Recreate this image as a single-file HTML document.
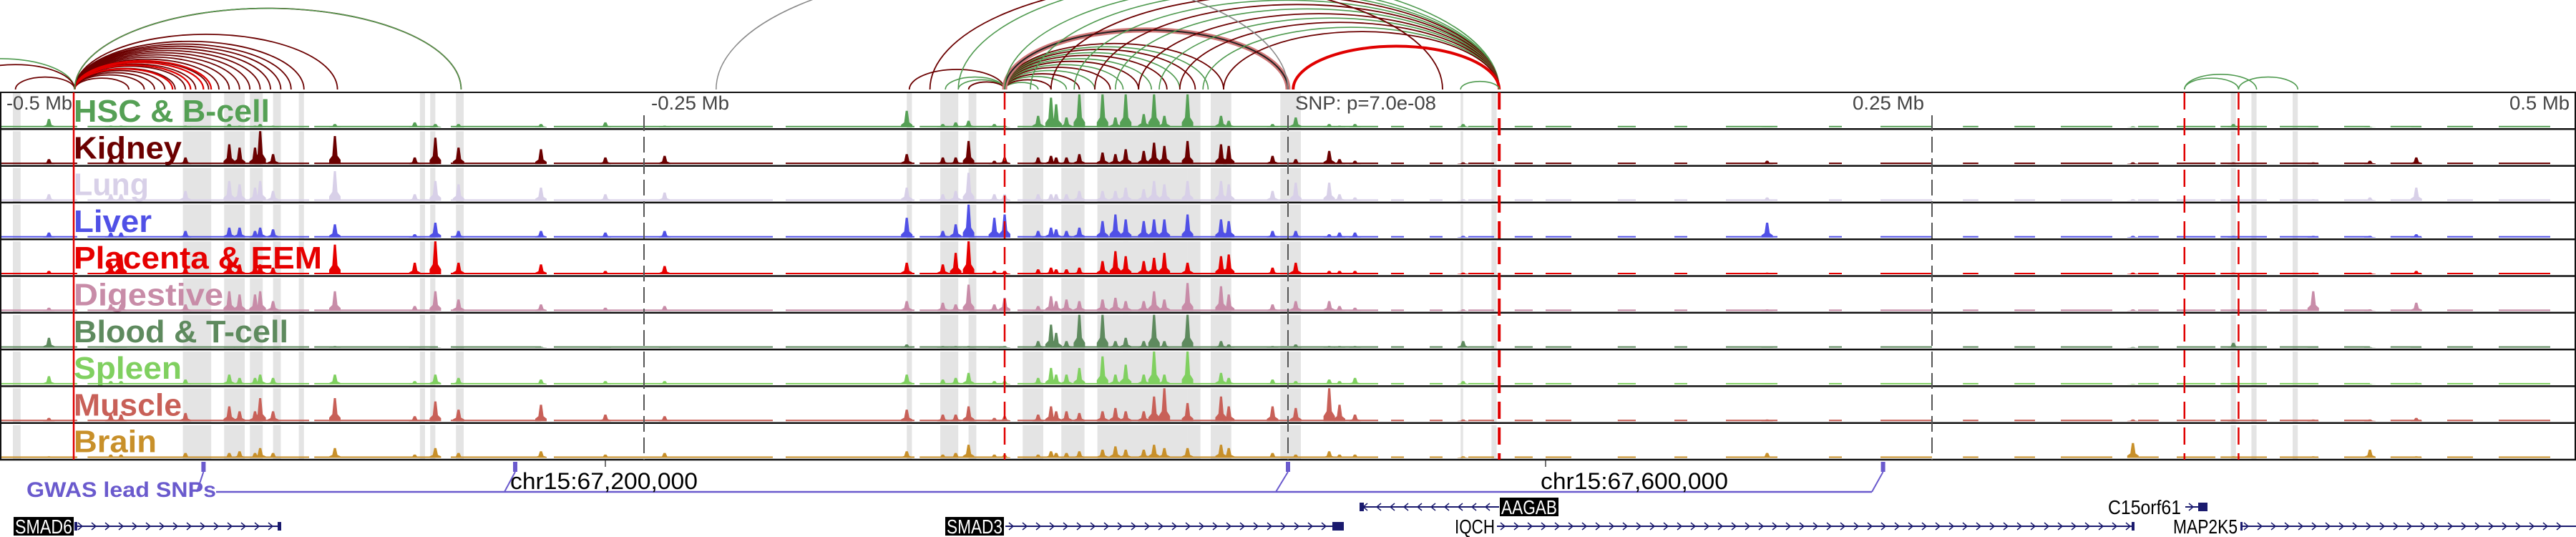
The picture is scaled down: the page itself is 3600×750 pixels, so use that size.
<!DOCTYPE html>
<html><head><meta charset="utf-8">
<style>
html,body{margin:0;padding:0;background:#fff;}
svg{display:block;}
text{font-family:"Liberation Sans","DejaVu Sans",sans-serif;}
</style></head>
<body>
<svg id="chart" width="3600" height="750" viewBox="0 0 3600 750" xmlns="http://www.w3.org/2000/svg">
  <g id="arcs"></g>
  <g id="bands"></g>
  <g id="tracks"></g>
  <g id="guides"></g>
  <g id="labels"></g>
  <g id="bottom"></g>
</svg>
<script>
// ---- data (genomic offset in kb relative to lead SNP) ----
const trackNames = ["HSC & B-cell","Kidney","Lung","Liver","Placenta & EEM","Digestive","Blood & T-cell","Spleen","Muscle","Brain"];
const trackColors = ["#55a055","#6b0000","#d8d0e8","#5050e6","#e60000","#c88ca8","#5e8a5e","#80d060","#c86058","#c8902a"];
const peakPos = [-481,-457,-453,-428,-411,-407,-401,-399,-394,-370,-339,-331,-322,-290,-265,-242,-148,-134,-129,-124,-114,-110,-97,-92,-90,-86,-81,-72,-67,-63,-56,-52,-48,-39,-26,-23,-6,3,16,20,26,68,186,328,367,398,420,438];
const hscVals = [.25,.05,.05,.05,.1,.05,.05,.1,.05,.1,.15,.1,.1,.1,.15,.05,.5,.1,.15,.2,.1,.05,.35,.9,.7,.3,1,1,.3,1,.4,1,.35,1,.35,.2,.1,.3,.1,.05,.1,.1,.02,.03,.1,.02,.02,.03];
const kidneyVals = [.15,.2,.2,.2,.6,.5,.5,1,.3,.85,.2,.8,.5,.45,.2,.25,.3,.2,.2,.7,.1,.2,.2,.25,.2,.2,.3,.35,.3,.45,.4,.65,.55,.7,.6,.55,.25,.15,.4,.15,.1,.05,.1,.05,.05,.05,.1,.2];
const lungVals = [.2,.2,.2,.3,.6,.5,.4,.6,.3,.9,.2,.6,.5,.4,.2,.25,.4,.2,.3,.85,.2,.2,.2,.2,.2,.2,.3,.3,.3,.4,.35,.6,.5,.6,.6,.5,.3,.55,.55,.2,.1,.05,.1,.05,.05,.05,.1,.4];
const liverVals = [.15,.15,.15,.2,.3,.3,.2,.3,.25,.4,.1,.45,.2,.2,.15,.2,.6,.2,.4,1,.6,.7,.2,.3,.25,.2,.3,.5,.7,.55,.5,.55,.55,.7,.55,.5,.2,.2,.1,.15,.15,.05,.45,.05,.05,.05,.05,.1];
const placentaVals = [.1,.35,.6,.2,.4,.3,.3,.3,.2,.9,.35,1,.35,.3,.1,.25,.35,.3,.65,1,.1,.1,.15,.2,.15,.15,.2,.4,.7,.55,.4,.5,.65,.35,.55,.6,.2,.35,.1,.1,.1,.05,.05,.05,.05,.05,.05,.1];
const digestiveVals = [.1,.2,.2,.2,.6,.5,.5,.6,.3,.6,.15,.6,.35,.2,.1,.15,.3,.25,.2,.8,.2,.4,.15,.45,.3,.35,.3,.35,.4,.3,.3,.6,.35,.85,.75,.5,.2,.3,.3,.15,.1,.05,.05,.05,.05,.6,.05,.25];
const bloodVals = [.3,.03,.03,.03,.03,.03,.03,.03,.03,.05,.03,.03,.03,.03,.03,.03,.1,.05,.05,.05,.03,.05,.2,.7,.45,.2,1,1,.2,.3,.2,1,.2,1,.2,.1,.05,.1,.05,.05,.05,.2,.02,.02,.15,.02,.02,.02];
const spleenVals = [.25,.1,.1,.15,.3,.2,.2,.3,.2,.3,.1,.3,.2,.15,.1,.1,.3,.15,.2,.35,.1,.1,.2,.5,.3,.3,.5,.85,.3,.6,.3,1,.3,1,.35,.2,.15,.1,.15,.1,.2,.1,.02,.02,.05,.02,.02,.05];
const muscleVals = [.1,.2,.2,.25,.45,.3,.3,.7,.3,.7,.15,.6,.35,.5,.2,.15,.35,.2,.2,.45,.1,.15,.2,.45,.3,.3,.25,.3,.4,.3,.3,.75,1,.55,.75,.45,.45,.4,1,.5,.2,.05,.05,.05,.05,.05,.05,.1];
const brainVals = [.05,.1,.1,.15,.15,.2,.15,.3,.15,.3,.1,.3,.15,.2,.1,.15,.2,.1,.15,.4,.1,.1,.1,.2,.15,.15,.2,.25,.35,.25,.25,.4,.3,.3,.4,.3,.15,.1,.2,.1,.1,.05,.15,.45,.05,.05,.25,.05];
const seriesVals = [hscVals,kidneyVals,lungVals,liverVals,placentaVals,digestiveVals,bloodVals,spleenVals,muscleVals,brainVals];
const coverageStart = [-500,-466,-378,-325,-285,-195,-143,-105,40,55,70,88,100,128,150,170,210,230,262,282,300,330,345,362,385,410,428,450,470];
const coverageEnd   = [-470,-380,-330,-290,-200,-145,-110,35,45,60,80,95,110,135,155,190,215,250,268,290,320,338,360,380,400,420,440,460,490];
const bandStart = [-495,-429,-413,-403,-394,-384,-337,-333,-323,-148,-135,-124,-103,-88,-74,-64,-52,-39,-30,-3,67,79,366,374,390];
const bandEnd   = [-492,-418,-405,-398,-391,-382,-335,-331,-320,-146,-128,-121,-95,-79,-62,-39,-42,-34,-22,5,68,81,368,376,392];
const loopFrom = [-528,-517,-494,-471,-471,-471,-471,-471,-471,-471,-471,-471,-471,-471,-471,-471,-471,-471,-471,-471,-471,-471,-471,-471,-471,-471,-471,-147,-133,-128,-124,-128,-110,-110,-110,-110,-110,-110,-110,-110,-110,-110,-110,-110,-110,-110,-110,-110,-110,-100,-92,-83,-75,-67,-58,-50,-42,-33,-25,-222,-139,2,67,348,348,369];
const loopTo   = [-471,-471,-471,-450,-444,-440,-436,-432,-428,-424,-419,-415,-411,-407,-403,-399,-395,-391,-387,-382,-433,-426,-421,-418,-369,-321,-321,-110,-110,-110,-110,82,-97,-92,-86,-81,-75,-69,-64,-58,-53,-47,-42,-36,-31,-25,0,0,82,82,82,82,82,82,82,82,82,82,82,0,60,82,82,376,369,392];
const loopType = ["g","d","d","d","d","d","d","d","d","d","d","d","d","d","d","d","d","d","d","d","r","r","r","r","d","d","g","d","g","g","d","g","g","d","g","d","g","d","g","d","g","d","g","d","g","d","s","k","g","g","d","g","d","g","d","g","d","g","d","e","d","R","g","g","g","g"];
const axisLabels = ["-0.5 Mb","-0.25 Mb","SNP: p=7.0e-08","0.25 Mb","0.5 Mb"];
const axisLabelKb = [-500,-250,0,250,500];
const snpKb = [-421,-300,0,231];
const coordTickKb = [-265,100];
const coordTickLabels = ["chr15:67,200,000","chr15:67,600,000"];

// ---- scales ----
const X0 = 1800, PXKB = 3.6;
const xs = kb => X0 + kb*PXKB;
const TOP = 129, TH = 51.3, NT = 10, MAXH = 46;
const trackBottom = i => TOP + (i+1)*TH - 2.5;
const NS = "http://www.w3.org/2000/svg";
function mk(tag, attrs, parent){ const e=document.createElementNS(NS,tag); for(const k in attrs) e.setAttribute(k,attrs[k]); parent.appendChild(e); return e; }

// ---- arcs ----
const arcG = document.getElementById('arcs');
const loopColors = {g:"#4f9a4f", d:"#6b0000", r:"#e00000", R:"#e00000", s:"#d07878", k:"#222", e:"#888"};
const loopWidth = {g:1.6, d:1.8, r:2.2, R:4, s:7, k:2, e:1.5};
const ARCBASE = 125;
for(let i=0;i<loopFrom.length;i++){
  const a = xs(loopFrom[i]), b = xs(loopTo[i]);
  const rx = Math.abs(b-a)/2, ry = Math.abs(b-a)*0.21;
  const p = mk('path',{d:`M${a},${ARCBASE} A${rx},${ry} 0 0 1 ${b},${ARCBASE}`,fill:'none',stroke:loopColors[loopType[i]],'stroke-width':loopWidth[loopType[i]]},arcG);
  
  
}

// ---- highlight bands ----
const bandG = document.getElementById('bands');
for(let i=0;i<bandStart.length;i++){
  for(let t=0;t<NT;t++){
    const r = mk('rect',{x:xs(bandStart[i]),y:TOP+t*TH+(t===0?0:3),width:Math.max(3,xs(bandEnd[i])-xs(bandStart[i])),height:TH-(t===0?0:3),fill:'#e4e4e4'},bandG);
    
    
  }
}

// ---- tracks ----
const trG = document.getElementById('tracks');
for(let t=0;t<NT;t++){
  const g = mk('g',{},trG);
  
  
  const yb = trackBottom(t), col = trackColors[t], vals = seriesVals[t];
  for(let c=0;c<coverageStart.length;c++){
    const r = mk('rect',{x:xs(coverageStart[c]),y:yb-2,width:xs(coverageEnd[c])-xs(coverageStart[c]),height:2,fill:col},g);
    
    
  }
  for(let p=0;p<peakPos.length;p++){
    const v = vals[p]||0; if(v<=0) continue;
    const x = xs(peakPos[p]), h = v*MAXH, w = 8;
    const d = `M${x-w},${yb} L${x-w},${yb-h*0.15} L${x-w*0.45},${yb-h*0.3} L${x-1.5},${yb-h} L${x+1.5},${yb-h} L${x+w*0.45},${yb-h*0.3} L${x+w},${yb-h*0.15} L${x+w},${yb} Z`;
    const pk = mk('path',{d:d,fill:col},g);
    
    
  }
}

// ---- guides & borders ----
const gd = document.getElementById('guides');
for(let t=0;t<=NT;t++){
  const l = mk('line',{x1:0,x2:3600,y1:TOP+t*TH,y2:TOP+t*TH,stroke:'#111','stroke-width':t===0?2:2.5},gd);
  
  
}
mk('line',{x1:1,x2:1,y1:TOP,y2:TOP+NT*TH,stroke:'#111','stroke-width':2},gd);
mk('line',{x1:3599,x2:3599,y1:TOP,y2:TOP+NT*TH,stroke:'#111','stroke-width':2},gd);
[-250,0,250].forEach(kb=>{
  const l = mk('line',{x1:xs(kb),x2:xs(kb),y1:TOP+32,y2:TOP+NT*TH,stroke:'#555','stroke-width':2,'stroke-dasharray':'22,8'},gd);
  
  
});
[[-110,2.5],[82,4],[348,2.5],[369,2.5]].forEach(([kb,w])=>{
  const l = mk('line',{x1:xs(kb),x2:xs(kb),y1:TOP,y2:TOP+NT*TH,stroke:'#e00000','stroke-width':w,'stroke-dasharray':'24,12'},gd);
  
  
});
const sl = mk('line',{x1:103,x2:103,y1:TOP,y2:TOP+NT*TH,stroke:'#e00000','stroke-width':2.5},gd);



// axis labels
const axisX = [9,910,1810,2589,3507];
const axisW = [92,109,197,100,84];
for(let i=0;i<axisLabels.length;i++){
  const tx = mk('text',{x:axisX[i],y:TOP+24,'font-size':27,fill:'#444',textLength:axisW[i],lengthAdjust:'spacingAndGlyphs'},gd);
  tx.textContent = axisLabels[i];
  
  
}

// ---- track labels ----
const lbG = document.getElementById('labels');
const labelW = [274,151,105,109,347,209,300,151,151,116];
for(let t=0;t<NT;t++){
  const tx = mk('text',{x:103,y:TOP+t*TH+41,'font-size':44,'font-weight':'bold',fill:trackColors[t],textLength:labelW[t],lengthAdjust:'spacingAndGlyphs'},lbG);
  tx.textContent = trackNames[t];
  
  
}

// ---- bottom: SNPs, coordinates, genes ----
const bt = document.getElementById('bottom');
const SNPC = '#6a5acd', LINEY = 687;
const gl = mk('text',{x:37,y:694,'font-size':30,'font-weight':'bold',fill:SNPC,textLength:265,lengthAdjust:'spacingAndGlyphs'},bt);
gl.textContent = 'GWAS lead SNPs';


const hl = mk('line',{x1:302,x2:2616,y1:LINEY,y2:LINEY,stroke:SNPC,'stroke-width':2.5},bt);


const snpAnchor = [275, 705, 1783, 2616];
for(let i=0;i<snpKb.length;i++){
  const x = xs(snpKb[i]);
  const m = mk('rect',{x:x-3,y:645,width:6,height:14,fill:SNPC},bt);
  
  
  mk('line',{x1:x,y1:659,x2:snpAnchor[i],y2:LINEY,stroke:SNPC,'stroke-width':2},bt);
}
const coordX = [713,2153];
for(let i=0;i<coordTickKb.length;i++){
  const x = xs(coordTickKb[i]);
  mk('line',{x1:x,x2:x,y1:643,y2:652,stroke:'#444','stroke-width':1.5},bt);
  const tx = mk('text',{x:coordX[i],y:683,'font-size':32,fill:'#000',textLength:262,lengthAdjust:'spacingAndGlyphs'},bt);
  tx.textContent = coordTickLabels[i];
  
  
}
const GENEC = '#1a1a6e';
function gene(name, boxed, lx, ly, tw, x1, x2, dir, endBox){
  const g = mk('g',{},bt);
  
  
  mk('line',{x1:x1,x2:x2,y1:ly,y2:ly,stroke:GENEC,'stroke-width':2},g);
  for(let x=x1+8;x<x2-8;x+=19){
    const d = dir>0 ? `M${x-3},${ly-5} L${x+3},${ly} L${x-3},${ly+5}` : `M${x+3},${ly-5} L${x-3},${ly} L${x+3},${ly+5}`;
    mk('path',{d:d,fill:'none',stroke:GENEC,'stroke-width':1.5},g);
  }
  if(endBox){ mk('rect',{x:endBox[0],y:ly-6,width:endBox[1],height:12,fill:GENEC},g); }
  if(boxed){ mk('rect',{x:lx,y:ly-13,width:tw+4,height:26,fill:'#000'},g); }
  const tx = mk('text',{x:lx+2,y:ly+10,'font-size':28,fill:boxed?'#fff':'#000',textLength:tw,lengthAdjust:'spacingAndGlyphs'},g);
  tx.textContent = name;
}
gene('SMAD6',true,19,735,80,104,392,1,[104,4]);
mk('rect',{x:388,y:729,width:5,height:12,fill:GENEC},bt);
gene('SMAD3',true,1321,735,78,1405,1877,1,[1862,16]);
gene('AAGAB',true,2096,708,78,1900,2095,-1,[1900,6]);
gene('IQCH',false,2031,735,56,2092,2983,1,[2979,4]);
gene('C15orf61',false,2944,708,102,3054,3085,1,[3072,13]);
gene('MAP2K5',false,3035,735,90,3131,3600,1,[3131,3]);
</script>
</body></html>
